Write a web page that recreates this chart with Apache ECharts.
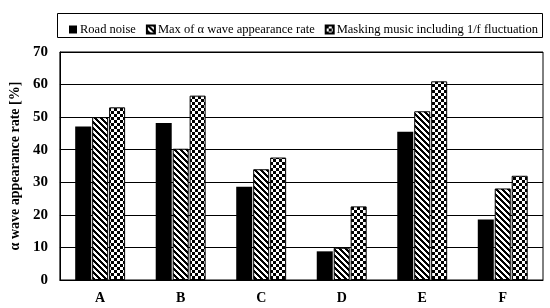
<!DOCTYPE html>
<html>
<head>
<meta charset="utf-8">
<script src="https://cdn.jsdelivr.net/npm/echarts@6/dist/echarts.min.js"></script>
<style>
  html, body { margin: 0; padding: 0; background: #fff; }
  #chart { width: 550px; height: 308px; }
</style>
</head>
<body>
<div id="chart"></div>
<script>
// data
var categories = ['A', 'B', 'C', 'D', 'E', 'F'];
var seriesNames = ['Road noise', 'Max of α wave appearance rate', 'Masking music including 1/f fluctuation'];
var roadNoise = [47.1, 48.2, 28.6, 8.8, 45.5, 18.6];
var maxAlpha = [50.0, 40.3, 34.0, 9.9, 51.8, 28.1];
var maskingMusic = [53.0, 56.6, 37.6, 22.6, 61.0, 32.0];
var yTicks = { min: 0, max: 70, step: 10 };

// hatch fills like the old excel patterns
function stripePattern() {
  var c = document.createElement('canvas');
  c.width = 6; c.height = 6;
  var ctx = c.getContext('2d');
  var img = ctx.createImageData(6, 6);
  for (var y = 0; y < 6; y++) {
    for (var x = 0; x < 6; x++) {
      var on = ((x - y + 12) % 6) < 3;
      var i = (y * 6 + x) * 4;
      var v = on ? 0 : 255;
      img.data[i] = v; img.data[i + 1] = v; img.data[i + 2] = v; img.data[i + 3] = 255;
    }
  }
  ctx.putImageData(img, 0, 0);
  return c;
}
function checkerPattern() {
  var c = document.createElement('canvas');
  c.width = 6; c.height = 6;
  var ctx = c.getContext('2d');
  ctx.fillStyle = '#fff';
  ctx.fillRect(0, 0, 6, 6);
  ctx.fillStyle = '#000';
  ctx.fillRect(0, 0, 3, 3);
  ctx.fillRect(3, 3, 3, 3);
  return c;
}

var serif = '"Liberation Serif", "DejaVu Serif", serif';
var chart = echarts.init(document.getElementById('chart'));

var option = {
  animation: false,
  backgroundColor: '#fff',
  graphic: [{
    type: 'rect',
    shape: { x: 57.5, y: 13.5, width: 485, height: 24 },
    style: { fill: 'none', stroke: '#000', lineWidth: 1 }
  }],
  legend: {
    data: seriesNames,
    icon: 'rect',
    left: 64,
    top: 18,
    width: 480,
    itemWidth: 8,
    itemHeight: 8,
    itemGap: 10,
    textStyle: { fontFamily: serif, fontSize: 12.5, color: '#000', padding: [0, 0, 0, -2] }
  },
  grid: {
    left: 57, right: 7, top: 52, bottom: 28,
    show: true, borderColor: '#000', borderWidth: 1
  },
  xAxis: {
    type: 'category',
    data: categories,
    axisTick: { show: false },
    axisLine: { lineStyle: { color: '#000', width: 1 } },
    axisLabel: { fontFamily: serif, fontWeight: 'bold', fontSize: 14, color: '#000', margin: 11 }
  },
  yAxis: {
    type: 'value',
    min: yTicks.min,
    max: yTicks.max,
    interval: yTicks.step,
    name: 'α wave appearance rate [%]',
    nameLocation: 'middle',
    nameGap: 36,
    nameTextStyle: { fontFamily: serif, fontWeight: 'bold', fontSize: 14, color: '#000' },
    axisLine: { show: true, lineStyle: { color: '#000', width: 1 } },
    axisTick: { show: false },
    splitLine: { lineStyle: { color: '#000', width: 1 } },
    axisLabel: { fontFamily: serif, fontWeight: 'bold', fontSize: 15, color: '#000', margin: 12 }
  },
  series: [
    {
      name: seriesNames[0], type: 'bar', data: roadNoise,
      barWidth: 16, barGap: '6%',
      itemStyle: { color: '#000' }
    },
    {
      name: seriesNames[1], type: 'bar', data: maxAlpha,
      barWidth: 16, barGap: '6%',
      itemStyle: { color: { image: stripePattern(), repeat: 'repeat' }, borderColor: '#000', borderWidth: 1 }
    },
    {
      name: seriesNames[2], type: 'bar', data: maskingMusic,
      barWidth: 16, barGap: '6%',
      itemStyle: { color: { image: checkerPattern(), repeat: 'repeat' }, borderColor: '#000', borderWidth: 1 }
    }
  ]
};

chart.setOption(option);
</script>
</body>
</html>
